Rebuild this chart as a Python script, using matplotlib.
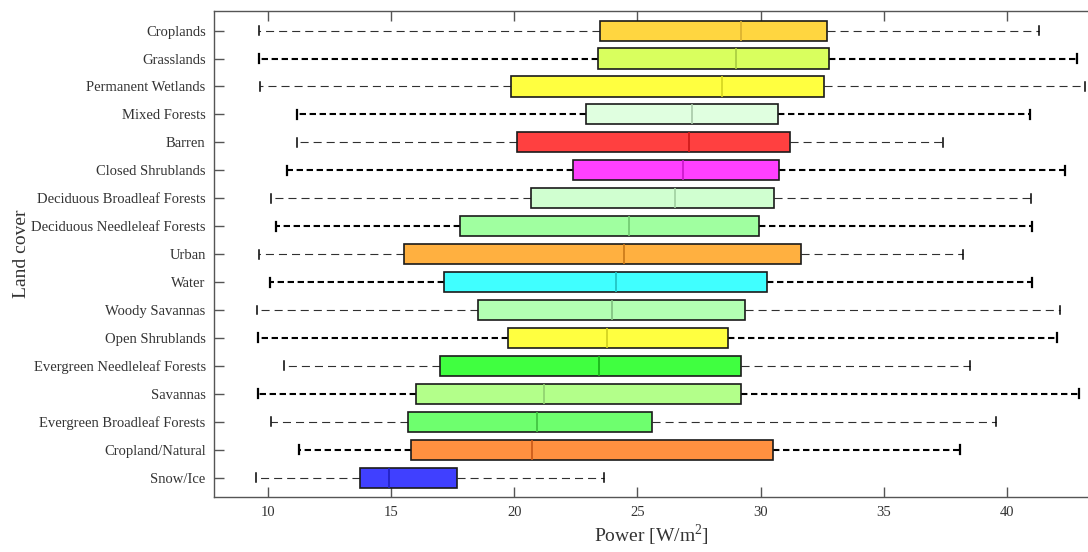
import matplotlib
matplotlib.use("Agg")
import matplotlib.pyplot as plt

# ---- data (top to bottom) ----
categories = ["Croplands", "Grasslands", "Permanent Wetlands", "Mixed Forests", "Barren",
              "Closed Shrublands", "Deciduous Broadleaf Forests", "Deciduous Needleleaf Forests",
              "Urban", "Water", "Woody Savannas", "Open Shrublands",
              "Evergreen Needleleaf Forests", "Savannas", "Evergreen Broadleaf Forests",
              "Cropland/Natural", "Snow/Ice"]
whislo = [9.63, 9.62, 9.68, 11.18, 11.17, 10.76, 10.11, 10.31, 9.63, 10.08, 9.54, 9.58,
          10.65, 9.58, 10.11, 11.26, 9.50]
q1 = [23.47, 23.40, 19.88, 22.89, 20.11, 22.38, 20.67, 17.81, 15.50, 17.15, 18.51, 19.74,
      16.97, 16.02, 15.67, 15.79, 13.72]
med = [29.22, 29.02, 28.43, 27.23, 27.08, 26.86, 26.51, 24.67, 24.44, 24.14, 23.97, 23.76,
       23.45, 21.19, 20.92, 20.72, 14.91]
q3 = [32.70, 32.78, 32.56, 30.71, 31.19, 30.75, 30.56, 29.92, 31.64, 30.26, 29.38, 28.66,
      29.19, 29.22, 25.58, 30.50, 17.69]
whishi = [41.33, 42.86, 43.17, 40.93, 37.43, 42.37, 40.98, 41.01, 38.22, 41.03, 42.17, 42.06,
          38.49, 42.93, 39.55, 38.12, 23.63]
fill_colors = ["#FFD640", "#D9FF5E", "#FFFF40", "#E0FFE0", "#FF4040", "#FF40FF", "#D0FFD0",
               "#A0FFA0", "#FFB040", "#40FFFF", "#B3FFB3", "#FFFF40", "#40FF40", "#B3FF8A",
               "#6EFF6E", "#FF9040", "#4040FF"]
median_colors = ["#D9B030", "#A8CC40", "#D4D420", "#A8C8A8", "#CC1818", "#C818C8", "#A0D0A0",
                 "#70C870", "#C87818", "#20C0C0", "#80C080", "#D0D020", "#18B018", "#90D070",
                 "#40C040", "#C85818", "#2020C0"]
xlabel = "Power [W/m$^2$]"
ylabel = "Land cover"
xticks = [10, 15, 20, 25, 30, 35, 40]

plt.rcParams["font.family"] = ["Liberation Serif", "DejaVu Serif"]
plt.rcParams["mathtext.fontset"] = "custom"
plt.rcParams["mathtext.rm"] = "Liberation Serif"
plt.rcParams["lines.scale_dashes"] = False

fig = plt.figure(figsize=(10.88, 5.52), dpi=100)
ax = fig.add_axes([214 / 1088, 55.3 / 552, 1 - 214 / 1088, (496.7 - 11) / 552])

n = len(categories)
positions = list(range(n, 0, -1))
stats = []
for i in range(n):
    stats.append(dict(label=categories[i], whislo=whislo[i], q1=q1[i], med=med[i],
                      q3=q3[i], whishi=whishi[i], fliers=[]))

res = ax.bxp(stats, positions=positions, vert=False, widths=0.72, capwidths=0.32,
             patch_artist=True, showfliers=False,
             boxprops=dict(edgecolor="#1a1a1a", linewidth=1.2),
             medianprops=dict(linewidth=1.2),
             whiskerprops=dict(color="black"),
             capprops=dict(color="black", linewidth=1.4))

for i in range(n):
    box = res["boxes"][i]
    box.set_facecolor(fill_colors[i])
    box.set_zorder(3)
    res["medians"][i].set_color(median_colors[i])
    res["medians"][i].set_zorder(4)
    thick = (i % 2 == 1)
    for w in res["whiskers"][2 * i:2 * i + 2]:
        if thick:
            w.set_linewidth(1.5)
            w.set_color("black")
            w.set_linestyle((0, (4.6, 2.6)))
        else:
            w.set_linewidth(0.8)
            w.set_color("#303030")
            w.set_linestyle((0, (5.8, 3.6)))
    for c in res["caps"][2 * i:2 * i + 2]:
        c.set_linewidth(1.6 if thick else 1.1)

ax.set_yticks(positions)
ax.set_yticklabels(categories)
ax.set_xticks(xticks)
ax.set_xlim(7.8, 43.3)
ax.set_ylim(0.32, n + 0.7)

ax.tick_params(axis="both", direction="in", length=7, width=1, colors="#555555",
               labelcolor="#333333", labelsize=10.5)
ax.tick_params(axis="x", top=True, pad=7)
ax.tick_params(axis="y", pad=6)
for side in ["left", "bottom", "top"]:
    ax.spines[side].set_color("#555555")
    ax.spines[side].set_linewidth(1.0)
ax.spines["right"].set_visible(False)

ax.set_xlabel(xlabel, fontsize=14, color="#333333", labelpad=2)
ax.set_ylabel(ylabel, fontsize=14, color="#333333", labelpad=1)

fig.savefig("out.png", dpi=100)
